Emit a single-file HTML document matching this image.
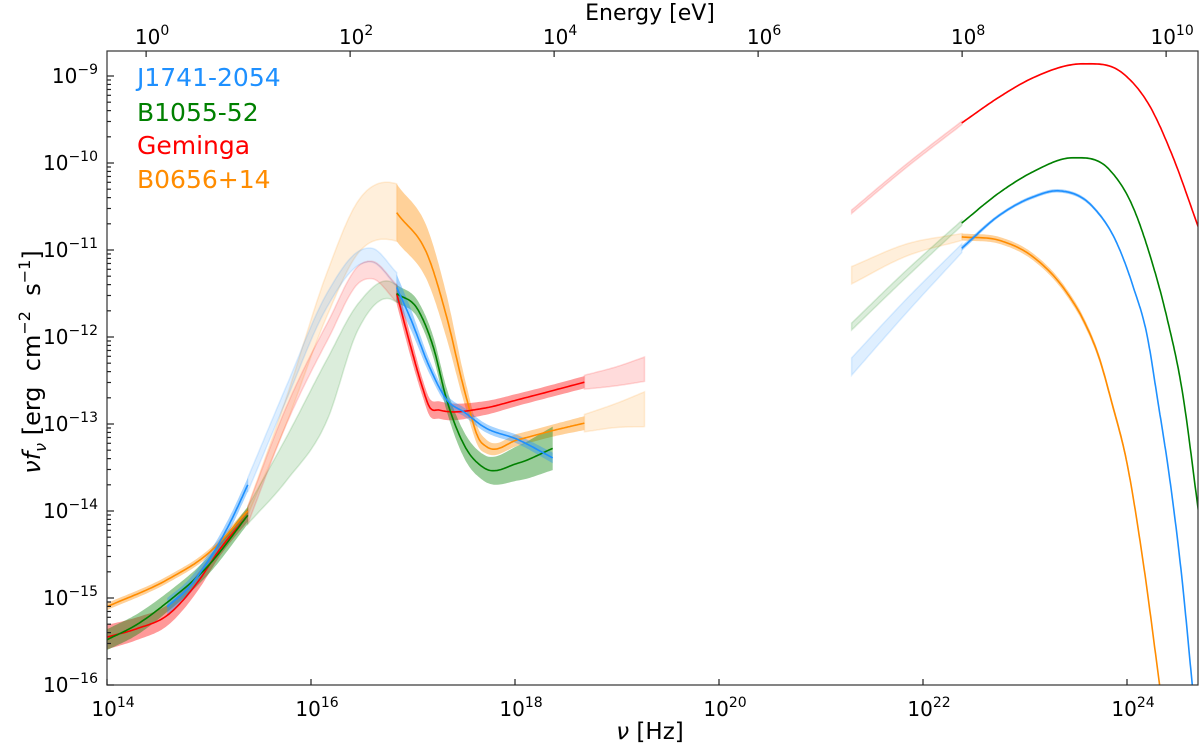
<!DOCTYPE html>
<html><head><meta charset="utf-8">
<style>
html,body{margin:0;padding:0;background:#fff;}
svg{display:block;font-family:"DejaVu Sans","Liberation Sans",sans-serif;}
</style></head>
<body>
<svg id="chart" width="1200" height="746" viewBox="0 0 1200 746">
<defs><clipPath id="plotclip"><rect x="107" y="51" width="1091" height="634"/></clipPath></defs>
<g id="marks" clip-path="url(#plotclip)"></g>
<rect x="107" y="51" width="1091" height="634" fill="none" stroke="#333" stroke-width="1.2"/>
<g id="axes"></g>
<text x="650" y="739" font-size="23" text-anchor="middle"><tspan font-style="italic">ν</tspan> [Hz]</text>
<text x="650" y="20" font-size="22" text-anchor="middle">Energy [eV]</text>
<text transform="translate(40,362) rotate(-90)" font-size="24" text-anchor="middle" style="white-space:pre"><tspan font-style="italic">νf</tspan><tspan font-style="italic" font-size="16" dy="6">ν</tspan><tspan dy="-6"> [erg  cm</tspan><tspan font-size="16" dy="-10">−2</tspan><tspan dy="10">  s</tspan><tspan font-size="16" dy="-10">−1</tspan><tspan dy="10">]</tspan></text>
<g font-size="25">
<text x="137" y="86" fill="#1e90ff">J1741-2054</text>
<text x="137" y="121" fill="#008000">B1055-52</text>
<text x="137" y="154" fill="#ff0000">Geminga</text>
<text x="137" y="188" fill="#ff8c00">B0656+14</text>
</g>
</svg>
<script>
// x ticks (log10 nu), y ticks (log10 flux), top ticks (log10 E)
const xTicks = [14, 16, 18, 20, 22, 24];
const yTicks = [-16, -15, -14, -13, -12, -11, -10, -9];
const eTicks = [0, 2, 4, 6, 8, 10];

// J1741-2054 (blue)
const blueOptNu = [14.59, 14.8, 15.0, 15.2, 15.38];
const blueOptF = [-15.1, -14.88, -14.56, -14.15, -13.7];
const blueOptW = [0.1, 0.09, 0.08, 0.08, 0.08];
const blueUvNu = [15.38, 15.76, 16.16, 16.49, 16.6, 16.84];
const blueUvF = [-13.7, -12.64, -11.57, -11.08, -11.06, -11.34];
const blueUvW = [0.08, 0.08, 0.08, 0.08, 0.08, 0.08];
const blueXNu = [16.84, 16.98, 17.16, 17.33, 17.51, 17.69, 18.03, 18.37];
const blueXF = [-11.43, -11.8, -12.34, -12.72, -12.87, -13.03, -13.18, -13.39];
const blueXW = [0.15, 0.12, 0.08, 0.06, 0.05, 0.05, 0.05, 0.06];
const blueGfNu = [21.3, 21.84, 22.38];
const blueGfF = [-12.34, -11.64, -10.98];
const blueGfW = [0.1, 0.08, 0.05];
const blueGNu = [22.38, 22.75, 23.08, 23.33, 23.67, 23.9, 24.06, 24.2, 24.3, 24.42, 24.54, 24.64];
const blueGF = [-10.98, -10.6, -10.39, -10.32, -10.51, -10.92, -11.42, -12.0, -12.72, -13.64, -14.79, -16.0];
const blueGW = [0.03, 0.02, 0.02, 0.02, 0.02, 0.02, 0.02, 0.02, 0.02, 0.02, 0.02, 0.02];

// B1055-52 (green)
const greenOptNu = [14.0, 14.3, 14.59, 15.0, 15.38];
const greenOptF = [-15.48, -15.3, -15.05, -14.62, -14.05];
const greenOptW = [0.12, 0.12, 0.11, 0.1, 0.1];
const greenUvNu = [15.38, 15.76, 16.16, 16.46, 16.77, 16.84];
const greenUvF = [-14.05, -13.4, -12.6, -11.77, -11.46, -11.5];
const greenUvW = [0.1, 0.25, 0.35, 0.15, 0.1, 0.1];
const greenXNu = [16.84, 17.05, 17.2, 17.33, 17.51, 17.69, 18.03, 18.37];
const greenXF = [-11.5, -11.69, -12.12, -12.72, -13.26, -13.5, -13.45, -13.28];
const greenXW = [0.1, 0.1, 0.12, 0.13, 0.15, 0.15, 0.2, 0.25];
const greenGfNu = [21.3, 21.84, 22.38];
const greenGfF = [-11.88, -11.27, -10.69];
const greenGfW = [0.04, 0.04, 0.03];
const greenGNu = [22.38, 22.75, 23.08, 23.47, 23.83, 24.06, 24.23, 24.39, 24.54, 24.7];
const greenGF = [-10.69, -10.34, -10.1, -9.94, -10.08, -10.51, -11.08, -11.77, -12.61, -14.0];
const greenGW = [0.01, 0.01, 0.01, 0.01, 0.01, 0.01, 0.01, 0.01, 0.01, 0.01];

// Geminga (red)
const redOptNu = [14.0, 14.3, 14.59, 14.9, 15.1, 15.38];
const redOptF = [-15.45, -15.35, -15.2, -14.8, -14.45, -14.05];
const redOptW = [0.14, 0.13, 0.12, 0.1, 0.08, 0.07];
const redUvNu = [15.38, 15.76, 16.16, 16.49, 16.6, 16.84];
const redUvF = [-14.05, -12.9, -11.94, -11.26, -11.23, -11.5];
const redUvW = [0.1, 0.1, 0.1, 0.1, 0.1, 0.1];
const redXNu = [16.84, 16.98, 17.09, 17.16, 17.26, 17.69, 18.03, 18.68];
const redXF = [-11.5, -12.12, -12.57, -12.8, -12.84, -12.82, -12.72, -12.52];
const redXW = [0.12, 0.12, 0.1, 0.1, 0.1, 0.08, 0.07, 0.07];
const redXfNu = [18.68, 19.0, 19.27];
const redXfF = [-12.52, -12.45, -12.37];
const redXfW = [0.08, 0.11, 0.14];
const redGfNu = [21.3, 21.84, 22.38];
const redGfF = [-10.56, -10.03, -9.54];
const redGfW = [0.02, 0.02, 0.02];
const redGNu = [22.38, 22.75, 23.08, 23.57, 23.96, 24.23, 24.45, 24.7];
const redGF = [-9.54, -9.24, -9.02, -8.86, -8.97, -9.36, -9.93, -10.74];
const redGW = [0.01, 0.01, 0.01, 0.01, 0.01, 0.01, 0.01, 0.01];

// B0656+14 (orange)
const orangeOptNu = [14.0, 14.59, 15.0, 15.38];
const orangeOptF = [-15.1, -14.79, -14.48, -14.0];
const orangeOptW = [0.04, 0.04, 0.04, 0.04];
const orangeUvNu = [15.38, 15.76, 16.16, 16.46, 16.81, 16.84];
const orangeUvF = [-14.0, -12.84, -11.5, -10.74, -10.56, -10.57];
const orangeUvW = [0.05, 0.15, 0.25, 0.3, 0.33, 0.33];
const orangeXNu = [16.84, 17.16, 17.33, 17.51, 17.65, 17.72, 18.03, 18.39, 18.68];
const orangeXF = [-10.57, -11.11, -11.77, -12.64, -13.18, -13.26, -13.18, -13.07, -12.99];
const orangeXW = [0.33, 0.3, 0.25, 0.15, 0.1, 0.08, 0.07, 0.07, 0.08];
const orangeXfNu = [18.68, 19.0, 19.27];
const orangeXfF = [-12.99, -12.9, -12.83];
const orangeXfW = [0.1, 0.14, 0.2];
const orangeGfNu = [21.3, 21.84, 22.38];
const orangeGfF = [-11.29, -11.0, -10.85];
const orangeGfW = [0.1, 0.07, 0.04];
const orangeGNu = [22.38, 22.75, 23.08, 23.41, 23.57, 23.73, 23.85, 24.0, 24.16, 24.32];
const orangeGF = [-10.85, -10.89, -11.08, -11.49, -11.8, -12.25, -12.75, -13.45, -14.6, -16.0];
const orangeGW = [0.04, 0.04, 0.04, 0.04, 0.04, 0.04, 0.04, 0.04, 0.04, 0.04];

const NS = 'http://www.w3.org/2000/svg';
const X0 = 107, PXD = 102, Y0 = 685, PYD = 87;
function xs(l) { return X0 + (l - 14) * PXD; }
function ys(l) { return Y0 - (l + 16) * PYD; }
function es(l) { return xs(l + 14.3835); }

function interp(xa, ya) {
  const n = xa.length, out = [];
  const d = [], m = [];
  for (let i = 0; i < n - 1; i++) d.push((ya[i+1] - ya[i]) / (xa[i+1] - xa[i]));
  for (let i = 0; i < n; i++) {
    if (i === 0) m.push(d[0]);
    else if (i === n - 1) m.push(d[n-2]);
    else { const w1 = xa[i+1] - xa[i], w0 = xa[i] - xa[i-1]; m.push((w0 * d[i] + w1 * d[i-1]) / (w0 + w1)); }
  }
  for (let i = 0; i < n - 1; i++) {
    const h = xa[i+1] - xa[i];
    for (let k = 0; k < 20; k++) {
      const t = k / 20, t2 = t*t, t3 = t2*t;
      const y = (2*t3 - 3*t2 + 1)*ya[i] + (t3 - 2*t2 + t)*h*m[i] + (-2*t3 + 3*t2)*ya[i+1] + (t3 - t2)*h*m[i+1];
      out.push([xa[i] + t*h, y]);
    }
  }
  out.push([xa[n-1], ya[n-1]]);
  return out;
}

const marks = document.getElementById('marks');
const bandLayer = document.createElementNS(NS, 'g');
const lineLayer = document.createElementNS(NS, 'g');
marks.appendChild(bandLayer);
marks.appendChild(lineLayer);

function seg(nu, f, w, color, faded, name) {
  const c = interp(nu, f), ww = interp(nu, w);
  const up = c.map((p, i) => xs(p[0]).toFixed(1) + ',' + ys(p[1] + ww[i][1]).toFixed(1));
  const lo = c.map((p, i) => xs(p[0]).toFixed(1) + ',' + ys(p[1] - ww[i][1]).toFixed(1)).reverse();
  const poly = document.createElementNS(NS, 'polygon');
  poly.setAttribute('points', up.concat(lo).join(' '));
  poly.setAttribute('fill', color);
  poly.setAttribute('fill-opacity', faded ? 0.14 : 0.4);
  
  
  bandLayer.appendChild(poly);
  if (!faded) {
    const pl = document.createElementNS(NS, 'polyline');
    pl.setAttribute('points', c.map(p => xs(p[0]).toFixed(1) + ',' + ys(p[1]).toFixed(1)).join(' '));
    pl.setAttribute('fill', 'none');
    pl.setAttribute('stroke', color);
    pl.setAttribute('stroke-width', 1.6);
    
    
    lineLayer.appendChild(pl);
  } else {
    poly.setAttribute('stroke', color);
    poly.setAttribute('stroke-opacity', 0.14);
    poly.setAttribute('stroke-width', 1.5);
  }
}

const B = '#1e90ff', G = '#008000', R = '#ff0000', O = '#ff8c00';
seg(orangeUvNu, orangeUvF, orangeUvW, O, true, 'b0656-uv-extrap');
seg(orangeXfNu, orangeXfF, orangeXfW, O, true, 'b0656-xray-extrap');
seg(orangeGfNu, orangeGfF, orangeGfW, O, true, 'b0656-gamma-extrap');
seg(greenUvNu, greenUvF, greenUvW, G, true, 'b1055-uv-extrap');
seg(greenGfNu, greenGfF, greenGfW, G, true, 'b1055-gamma-extrap');
seg(blueUvNu, blueUvF, blueUvW, B, true, 'j1741-uv-extrap');
seg(blueGfNu, blueGfF, blueGfW, B, true, 'j1741-gamma-extrap');
seg(redUvNu, redUvF, redUvW, R, true, 'geminga-uv-extrap');
seg(redXfNu, redXfF, redXfW, R, true, 'geminga-xray-extrap');
seg(redGfNu, redGfF, redGfW, R, true, 'geminga-gamma-extrap');

seg(orangeOptNu, orangeOptF, orangeOptW, O, false, 'b0656-optical');
seg(orangeXNu, orangeXF, orangeXW, O, false, 'b0656-xray');
seg(orangeGNu, orangeGF, orangeGW, O, false, 'b0656-gamma');
seg(redOptNu, redOptF, redOptW, R, false, 'geminga-optical');
seg(redXNu, redXF, redXW, R, false, 'geminga-xray');
seg(redGNu, redGF, redGW, R, false, 'geminga-gamma');
seg(greenOptNu, greenOptF, greenOptW, G, false, 'b1055-optical');
seg(greenXNu, greenXF, greenXW, G, false, 'b1055-xray');
seg(greenGNu, greenGF, greenGW, G, false, 'b1055-gamma');
seg(blueOptNu, blueOptF, blueOptW, B, false, 'j1741-optical');
seg(blueXNu, blueXF, blueXW, B, false, 'j1741-xray');
seg(blueGNu, blueGF, blueGW, B, false, 'j1741-gamma');

const axes = document.getElementById('axes');
function line(x1, y1, x2, y2, name) {
  const l = document.createElementNS(NS, 'line');
  l.setAttribute('x1', x1); l.setAttribute('y1', y1); l.setAttribute('x2', x2); l.setAttribute('y2', y2);
  l.setAttribute('stroke', '#222'); l.setAttribute('stroke-width', 1.2);
  
  
  axes.appendChild(l);
}
function label(x, y, exp, anchor, name) {
  const t = document.createElementNS(NS, 'text');
  t.setAttribute('x', x); t.setAttribute('y', y);
  t.setAttribute('font-size', 20);
  t.setAttribute('text-anchor', anchor);
  t.innerHTML = '10<tspan font-size="14" dy="-9">' + exp + '</tspan>';
  
  
  axes.appendChild(t);
}
xTicks.forEach(v => {
  const x = xs(v);
  line(x, 685, x, 679, 'x-tick');
  label(x + 6, 716, String(v), 'middle', 'x-tick-label');
});
eTicks.forEach(v => {
  const x = es(v);
  line(x, 51, x, 57, 'top-tick');
  label(x + 6, 44, String(v), 'middle', 'top-tick-label');
});
yTicks.forEach(v => {
  const y = ys(v);
  line(107, y, 114, y, 'y-tick');
  label(98, y + 7, v < 0 ? '−' + (-v) : String(v), 'end', 'y-tick-label');
  for (let k = 2; k <= 9; k++) {
    const ym = ys(v + Math.log10(k));
    if (ym > 51) line(107, ym, 111, ym, 'y-minor-tick');
  }
});
</script>
</body></html>
